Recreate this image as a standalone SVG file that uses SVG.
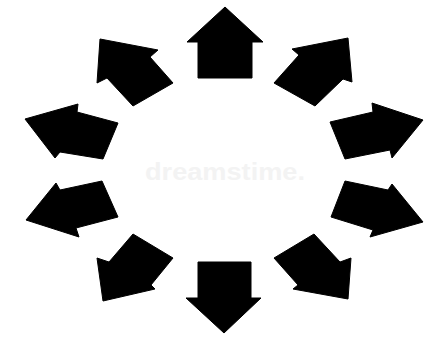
<svg xmlns="http://www.w3.org/2000/svg" width="428" height="337" viewBox="0 0 428 337">
<style>
.arrow{fill:#000;stroke:#000;stroke-width:1;stroke-linejoin:miter}
.wm{font-family:"Liberation Sans",Arial,sans-serif;font-weight:bold;font-size:24px;fill:#f3f3f3}
</style>
<rect width="428" height="337" fill="#fff"/>
<text class="wm" x="145" y="180" textLength="160" lengthAdjust="spacingAndGlyphs">dreamstime.</text>
<g id="arrow-top"><polygon class="arrow" points="225,7 263,42 252,42 252,78 198,78 198,42 187,42"/></g>
<g id="arrow-top-right"><polygon class="arrow" points="348,38 352,82 343,79 315,106 274,83 299,55 292,49"/></g>
<g id="arrow-right-upper"><polygon class="arrow" points="423,120 392,158 390,150 345,159 330,122 373,112 372,103"/></g>
<g id="arrow-right-lower"><polygon class="arrow" points="423,222 370,237 373,230 331,217 345,181 388,190 392,184"/></g>
<g id="arrow-bottom-right"><polygon class="arrow" points="348,299 293,289 298,285 274,258 314,234 340,262 351,258"/></g>
<g id="arrow-bottom"><polygon class="arrow" points="224,333 186,298 198,298 198,262 251,262 251,298 261,298"/></g>
<g id="arrow-bottom-left"><polygon class="arrow" points="103,301 155,289 151,285 173,258 133,234 109,262 97,258"/></g>
<g id="arrow-left-lower"><polygon class="arrow" points="26,220 79,237 76,228 118,217 102,181 60,190 56,183"/></g>
<g id="arrow-left-upper"><polygon class="arrow" points="25,119 78,104 77,112 118,123 103,159 60,152 55,158"/></g>
<g id="arrow-top-left"><polygon class="arrow" points="100,39 158,50 150,57 173,83 133,106 107,78 97,83"/></g>
</svg>
